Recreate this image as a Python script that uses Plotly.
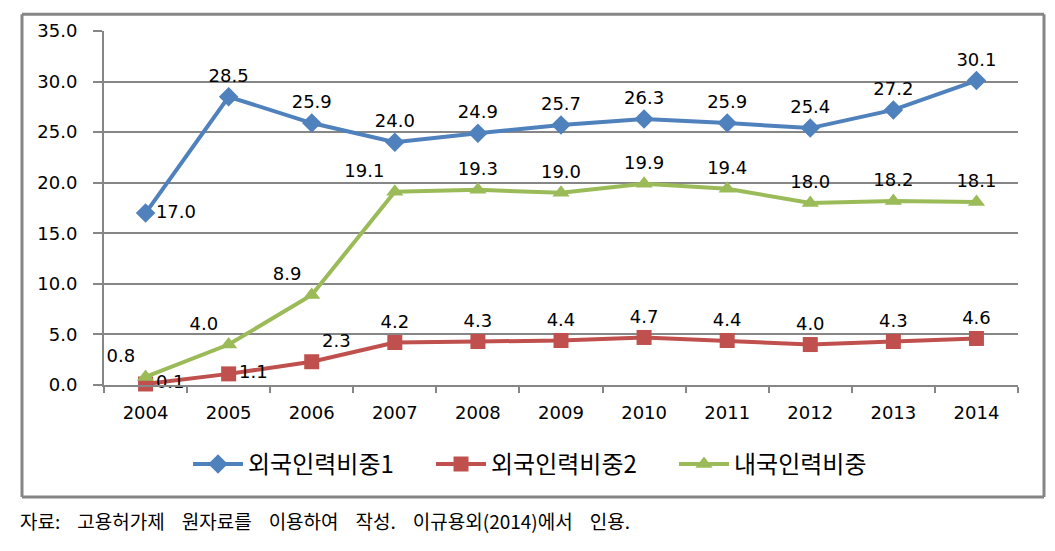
import plotly.graph_objects as go

years = ["2004", "2005", "2006", "2007", "2008", "2009", "2010", "2011", "2012", "2013", "2014"]
foreign1 = [17.0, 28.5, 25.9, 24.0, 24.9, 25.7, 26.3, 25.9, 25.4, 27.2, 30.1]
foreign2 = [0.1, 1.1, 2.3, 4.2, 4.3, 4.4, 4.7, 4.4, 4.0, 4.3, 4.6]
domestic = [0.8, 4.0, 8.9, 19.1, 19.3, 19.0, 19.9, 19.4, 18.0, 18.2, 18.1]
names = ["외국인력비중1", "외국인력비중2", "내국인력비중"]
caption_words = ["자료:", "고용허가제", "원자료를", "이용하여", "작성.", "이규용외(2014)에서", "인용."]

KFONT = "Noto Sans CJK KR"
NFONT = "DejaVu Sans"
pos1 = ["middle right"] + ["top center"] * 10
pos2 = ["middle right", "middle right", "top right"] + ["top center"] * 8
pos3 = ["top left", "top left", "top left", "top left"] + ["top center"] * 7

fig = go.Figure()
specs = [
    (foreign1, names[0], "#4F81BD", "diamond", pos1),
    (foreign2, names[1], "#C0504D", "square", pos2),
    (domestic, names[2], "#9BBB59", "triangle-up", pos3),
]
for vals, nm, col, sym, pos in specs:
    fig.add_trace(go.Scatter(
        x=years, y=vals, name=nm, mode="lines+markers+text",
        line=dict(color=col, width=4),
        marker=dict(symbol=sym, size=15, color=col),
        text=[f"{v:.1f}" for v in vals], textposition=pos,
        textfont=dict(family=NFONT, size=18, color="black"),
        cliponaxis=False,
    ))

OFF = 8  # page offset
L, R, T, B = 104 - OFF, 1018 - OFF, 28 - OFF, 385 - OFF
W, H = 1055 - OFF, 551 - OFF
pw, ph = R - L, B - T

def px(x):
    return (x - OFF - L) / pw

def py(y):
    return (B - (y - OFF)) / ph

caption = ("\u00a0" * 4).join(caption_words)

BX0, BX1, BY0, BY1 = px(22), px(1044), py(498), py(11)
frame = dict(type="line", xref="paper", yref="paper",
             line=dict(color="#868686", width=3), layer="above")
shapes = [
    dict(frame, x0=BX0, x1=BX1, y0=BY1, y1=BY1),
    dict(frame, x0=BX0, x1=BX1, y0=BY0, y1=BY0),
    dict(frame, x0=BX0, x1=BX0, y0=BY0, y1=BY1),
    dict(frame, x0=BX1, x1=BX1, y0=BY0, y1=BY1),
]

fig.update_layout(
    width=W, height=H,
    margin=dict(l=L, r=W - R, t=T, b=H - B),
    paper_bgcolor="white", plot_bgcolor="white",
    font=dict(family=NFONT, size=18, color="black"),
    showlegend=True,
    legend=dict(orientation="h", x=px(188), y=py(465), xanchor="left", yanchor="middle",
                font=dict(family=KFONT, size=24), itemwidth=50, entrywidth=178,
                tracegroupgap=0),
    xaxis=dict(type="category", range=[-0.5, 10.5], tickson="boundaries", ticks="outside",
               ticklen=6, tickwidth=2, tickcolor="#868686", showline=True, linecolor="#868686",
               linewidth=2, showgrid=False, tickfont=dict(size=18), ticklabelstandoff=10),
    yaxis=dict(range=[0, 35], dtick=5, tickformat=".1f", ticks="outside", ticklen=9,
               tickwidth=2, tickcolor="#868686", showline=True, linecolor="#868686", linewidth=2,
               gridcolor="#868686", gridwidth=2, zeroline=False, tickfont=dict(size=18),
               ticklabelstandoff=12),
    shapes=shapes,
    annotations=[dict(text=caption, xref="paper", yref="paper", x=px(18), y=py(522),
                      xanchor="left", yanchor="middle", showarrow=False,
                      font=dict(family=KFONT, size=19, color="black"))],
)
fig.write_html("out.html")
